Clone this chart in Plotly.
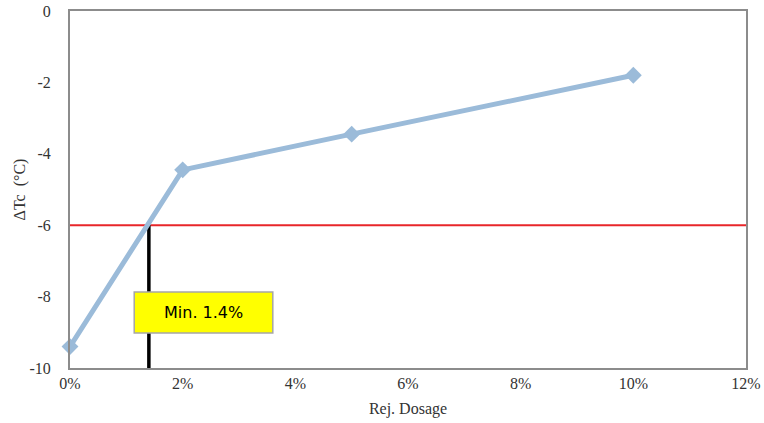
import plotly.graph_objects as go

dosage = [0, 2, 5, 10]
delta_tc = [-9.4, -4.45, -3.45, -1.8]
threshold = -6
min_dosage = 1.4
x_ticks = [0, 2, 4, 6, 8, 10, 12]
y_ticks = [0, -2, -4, -6, -8, -10]

fig = go.Figure()
fig.add_trace(go.Scatter(
    x=dosage, y=delta_tc, mode="lines+markers",
    line=dict(color="#9BBBD9", width=5),
    marker=dict(symbol="diamond", size=13, color="#9BBBD9"),
    showlegend=False, cliponaxis=False, hoverinfo="skip",
))

fig.add_shape(type="line", x0=0, x1=12, y0=threshold, y1=threshold,
              line=dict(color="#E8262A", width=2), layer="below")
fig.add_shape(type="line", x0=min_dosage, x1=min_dosage, y0=threshold, y1=-10,
              line=dict(color="black", width=3.5), layer="below")
fig.add_shape(type="rect", x0=1.14, x1=3.6, y0=-7.87, y1=-9.02,
              fillcolor="#FFFF00", line=dict(color="#A6A6A6", width=1.5), layer="above")
fig.add_annotation(x=(1.14 + 3.6) / 2, y=(-7.87 - 9.02) / 2, text=f"Min. {min_dosage}%",
                   showarrow=False, font=dict(family="DejaVu Sans, sans-serif", size=16, color="black"))

fig.update_layout(
    width=764, height=423,
    margin=dict(l=70, r=18, t=11, b=55),
    paper_bgcolor="white", plot_bgcolor="white",
    font=dict(family="Liberation Serif, Times New Roman, serif", color="#333333", size=16),
)
fig.update_xaxes(
    range=[0, 12], tickvals=x_ticks, ticktext=[f"{v}%" for v in x_ticks],
    showgrid=False, zeroline=False, showline=True, linecolor="#8C8C8C", linewidth=2, mirror=True,
    ticks="", tickfont=dict(family="Liberation Serif, serif", size=16, color="#333333"), automargin=False,
    title=dict(text="Rej. Dosage", font=dict(family="Liberation Serif, serif", size=16, color="#333333"), standoff=12),
)
fig.update_yaxes(
    range=[-10, 0], tickvals=y_ticks, ticktext=[str(v) for v in y_ticks],
    showgrid=False, zeroline=False, showline=True, linecolor="#8C8C8C", linewidth=2, mirror=True,
    ticks="", tickfont=dict(family="Liberation Serif, serif", size=16, color="#333333"), ticklabelstandoff=14, automargin=False,
    title=dict(text="ΔTc  (°C)", font=dict(family="Liberation Serif, serif", size=16, color="#333333"), standoff=0),
)

fig.write_html(
    "out.html",
    config={"displayModeBar": False},
    post_script="document.body.style.margin='0';document.body.style.overflow='hidden';",
)
